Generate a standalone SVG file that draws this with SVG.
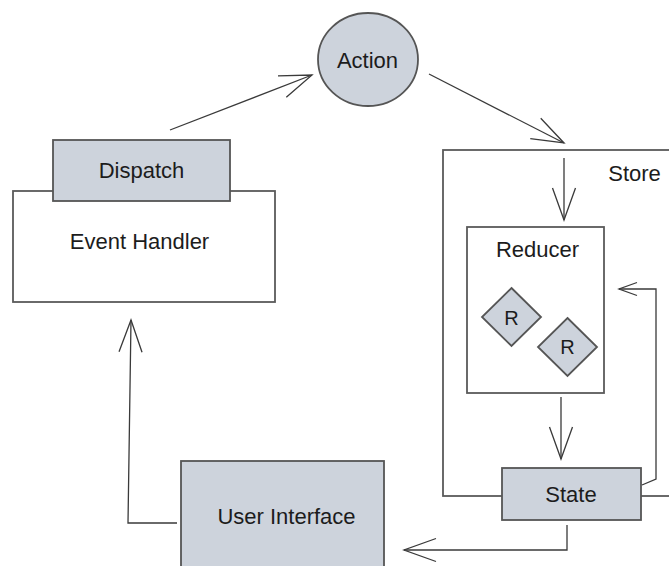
<svg xmlns="http://www.w3.org/2000/svg" width="669" height="566" viewBox="0 0 669 566">
  <style>
    .box { fill: #ffffff; stroke: #5a5a5a; stroke-width: 1.8; }
    .shade { fill: #cdd3dc; stroke: #555555; stroke-width: 1.8; }
    .lbl { font-family: "Liberation Sans", Arial, Helvetica, sans-serif; font-size: 22px; fill: #1c1c1c; text-anchor: middle; }
    .small { font-size: 20px; }
    .wire { fill: none; stroke: #3a3a3a; stroke-width: 1.3; stroke-linejoin: miter; }
  </style>
  <defs>
    <marker id="open" markerUnits="userSpaceOnUse" markerWidth="40" markerHeight="30" viewBox="-34 -15 36 30" refX="0" refY="0" orient="auto">
      <path d="M -32 -11.5 L 0 0 L -32 11.5" fill="none" stroke="#3a3a3a" stroke-width="1.3"/>
    </marker>
    <marker id="openSmall" markerUnits="userSpaceOnUse" markerWidth="24" markerHeight="18" viewBox="-20 -9 22 18" refX="0" refY="0" orient="auto">
      <path d="M -18 -6.5 L 0 0 L -18 6.5" fill="none" stroke="#3a3a3a" stroke-width="1.3"/>
    </marker>
  </defs>

  <rect width="669" height="566" fill="#ffffff"/>

  <!-- Store container (right side runs past the edge) -->
  <g id="store">
    <rect class="box" x="443" y="150" width="250" height="346"/>
    <text class="lbl" x="634.5" y="181">Store</text>
  </g>

  <g id="event-handler">
    <rect class="box" x="13" y="191" width="262" height="111"/>
    <text class="lbl" x="139.5" y="249">Event Handler</text>
  </g>

  <g id="dispatch">
    <rect class="shade" x="53" y="140" width="177" height="61"/>
    <text class="lbl" x="141.5" y="178">Dispatch</text>
  </g>

  <g id="action">
    <ellipse class="shade" cx="368" cy="59.5" rx="50" ry="46.5"/>
    <text class="lbl" x="367.5" y="68">Action</text>
  </g>

  <g id="reducer">
    <rect class="box" x="467" y="227" width="137" height="166"/>
    <text class="lbl" x="537.5" y="257">Reducer</text>
  </g>

  <g id="r1">
    <polygon class="shade" points="511.5,288 541,317 511.5,346 482,317"/>
    <text class="lbl small" x="511.5" y="325">R</text>
  </g>

  <g id="r2">
    <polygon class="shade" points="567.5,318 597,347 567.5,376 538,347"/>
    <text class="lbl small" x="567.5" y="354">R</text>
  </g>

  <g id="state">
    <rect class="shade" x="502" y="468" width="139" height="52"/>
    <text class="lbl" x="571" y="502">State</text>
  </g>

  <g id="user-interface">
    <rect class="shade" x="181" y="461" width="203" height="120"/>
    <text class="lbl" x="286.5" y="524">User Interface</text>
  </g>

  <g id="connectors">
    <path class="wire" d="M 170 130 L 312 75" marker-end="url(#open)"/>
    <path class="wire" d="M 429 74 L 564 143" marker-end="url(#open)"/>
    <path class="wire" d="M 564 158 L 564 220" marker-end="url(#open)"/>
    <path class="wire" d="M 561 397 L 561 459" marker-end="url(#open)"/>
    <path class="wire" d="M 567 525 V 550 H 404" marker-end="url(#open)"/>
    <path class="wire" d="M 177 523 H 128 L 131 320" marker-end="url(#open)"/>
    <path class="wire" d="M 642 485 L 656 479 V 289 H 619" marker-end="url(#openSmall)"/>
  </g>
</svg>
